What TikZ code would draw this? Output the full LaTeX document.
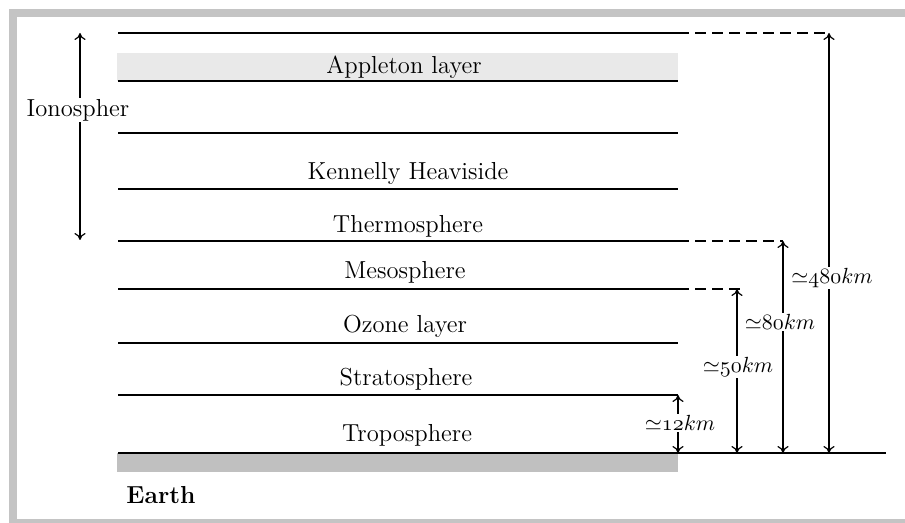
\documentclass[tikz,border=0pt]{standalone}
\usetikzlibrary{arrows.meta}
\definecolor{applgray}{HTML}{E9E9E9}
\definecolor{earthgray}{HTML}{C0C0C0}
\definecolor{framegray}{HTML}{C4C4C4}
\begin{document}
\begin{tikzpicture}[x=0.5pt,y=-0.5pt,
  lbl/.style={font=\fontsize{12.3}{14}\selectfont, inner sep=1pt},
  dimlbl/.style={font=\fontsize{11}{13}\selectfont, fill=white, inner sep=0.5pt},
  thickline/.style={line width=1.1pt},
  thinline/.style={line width=0.6pt},
  dashline/.style={line width=1pt, dash pattern=on 5.5pt off 3pt},
  dimarrow/.style={{To[length=3.5pt,width=5.5pt]}-{To[length=3.5pt,width=5.5pt]}, line width=0.6pt}]
\useasboundingbox (0,0) rectangle (905,523);
\clip (0,0) rectangle (905,523);
% frame (open on the right, bottom edge cut by the page)
\draw[framegray, line width=4pt] (1000,13) -- (13,13) -- (13,523) -- (1000,523);
% coloured bands
\fill[applgray] (117,53) rectangle (678,81);
\fill[earthgray] (117,453) rectangle (678,472);
% layer boundaries
\coordinate (t0l) at (118,33);  \coordinate (t0r) at (678,33);
\coordinate (t1l) at (118,81);  \coordinate (t1r) at (678,81);
\coordinate (t2l) at (118,133); \coordinate (t2r) at (678,133);
\coordinate (t3l) at (118,189); \coordinate (t3r) at (678,189);
\coordinate (t4l) at (118,241); \coordinate (t4r) at (678,241);
\coordinate (t5l) at (118,289); \coordinate (t5r) at (678,289);
\coordinate (t6l) at (118,343); \coordinate (t6r) at (678,343);
\coordinate (t7l) at (118,395); \coordinate (t7r) at (678,395);
\coordinate (gl) at (118,453);  \coordinate (gr) at (886,453);
\draw[thickline] (t0l) -- (t0r);
\draw[thinline] (t1l) -- (t1r);
\draw[thinline] (t2l) -- (t2r);
\draw[thinline] (t3l) -- (t3r);
\draw[thickline] (t4l) -- (t4r);
\draw[thickline] (t5l) -- (t5r);
\draw[thinline] (t6l) -- (t6r);
\draw[thickline] (t7l) -- (t7r);
\draw[thinline] (gl) -- (gr);
% dashed extensions
\coordinate (d480) at (829,33);
\coordinate (d80) at (783,241);
\coordinate (d50) at (742,289);
\draw[dashline] (t0r) -- (d480);
\draw[dashline] (t4r) -- (d80);
\draw[dashline] (t5r) -- (d50);
% layer names
\node[lbl] (appleton) at (404,67) {Appleton layer};
\node[lbl] (kennelly) at (408,173) {Kennelly Heaviside};
\node[lbl] (thermo) at (408,226) {Thermosphere};
\node[lbl] (meso) at (405,272) {Mesosphere};
\node[lbl] (ozone) at (405,326) {Ozone layer};
\node[lbl] (strato) at (406,379) {Stratosphere};
\node[lbl] (tropo) at (407,435) {Troposphere};
\node[lbl, font=\fontsize{12.3}{14}\selectfont\bfseries] (earth) at (161,495) {Earth};
% ionosphere arrow
\coordinate (ion1) at (80,33);
\coordinate (ion2) at (80,240);
\draw[dimarrow] (ion1) -- (ion2);
\node[lbl, fill=white, inner sep=0.5pt] (ion) at (78,110) {Ionospher};
% height arrows
\coordinate (h12t) at (678,395); \coordinate (h12b) at (678,453);
\coordinate (h50t) at (737,289); \coordinate (h50b) at (737,453);
\coordinate (h80t) at (783,241); \coordinate (h80b) at (783,453);
\coordinate (h480t) at (829,33); \coordinate (h480b) at (829,453);
\draw[dimarrow] (h12t) -- (h12b);
\draw[dimarrow] (h50t) -- (h50b);
\draw[dimarrow] (h80t) -- (h80b);
\draw[dimarrow] (h480t) -- (h480b);
\node[dimlbl] (l12) at (680,423) {${\simeq}\oldstylenums{12}km$};
\node[dimlbl] (l50) at (738,367) {${\simeq}\oldstylenums{50}km$};
\node[dimlbl] (l80) at (780,322) {${\simeq}\oldstylenums{80}km$};
\node[dimlbl] (l480) at (832,278) {${\simeq}\oldstylenums{480}km$};
\end{tikzpicture}
\end{document}
